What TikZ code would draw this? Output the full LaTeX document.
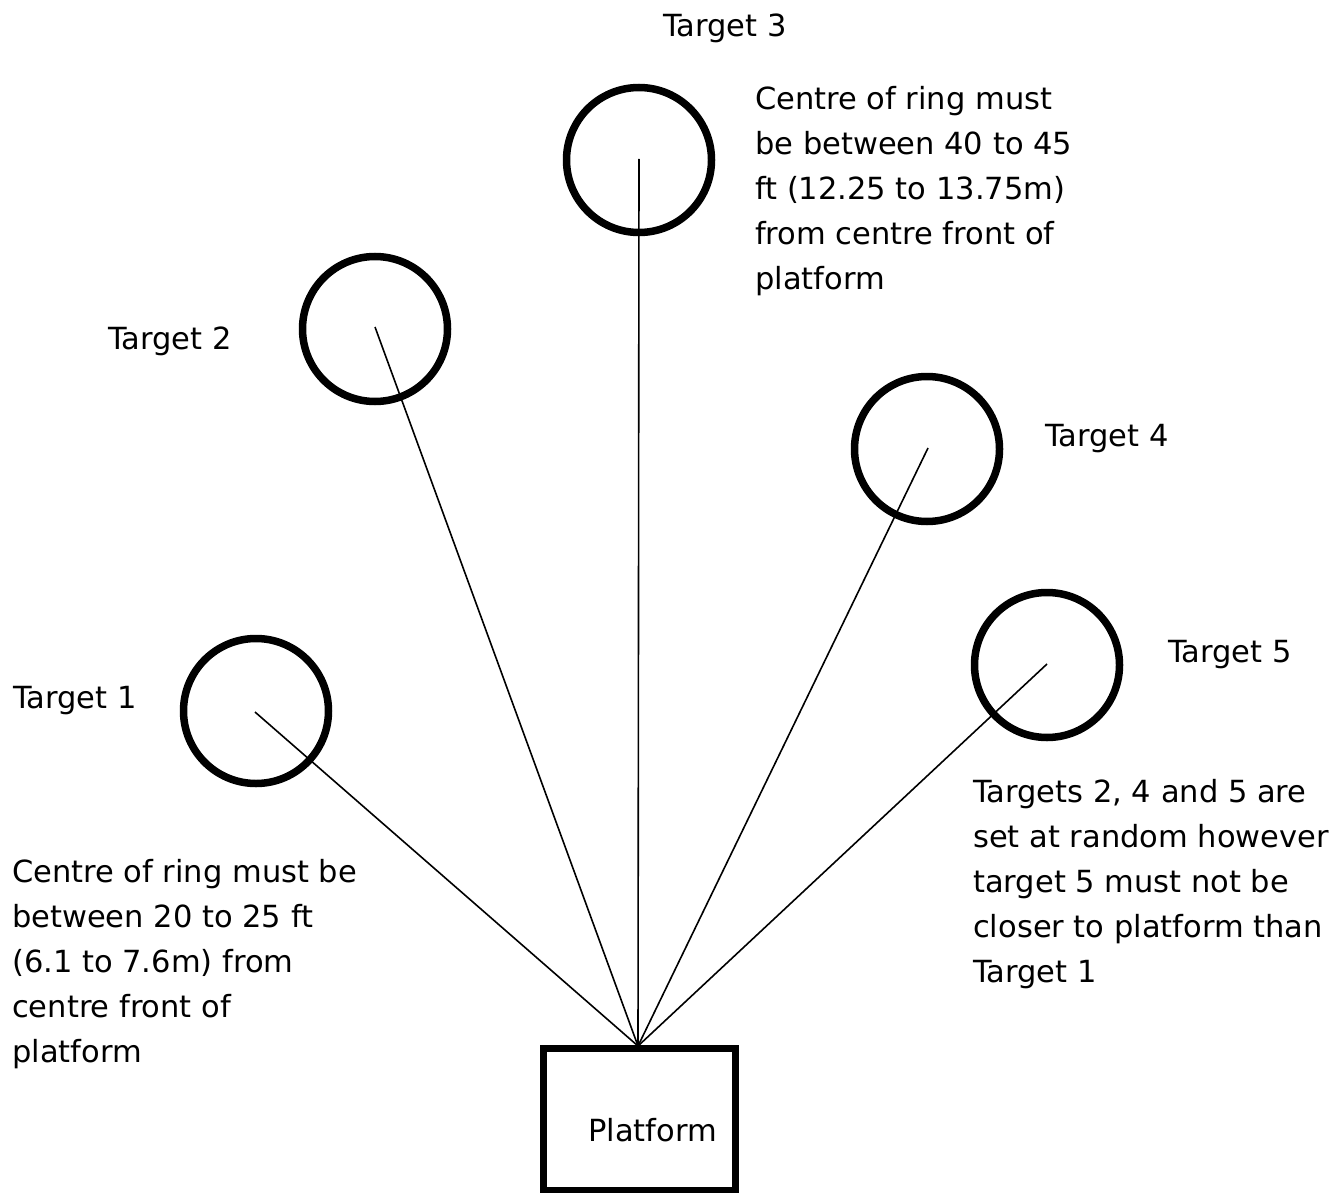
\documentclass[tikz,border=0pt]{standalone}
\usepackage{fontspec}
\setmainfont{DejaVu Sans}
\begin{document}
\begin{tikzpicture}[x=1pt,y=-1pt,
  ring/.style={circle,draw,line width=7.5pt,minimum size=145pt,inner sep=0pt},
  conn/.style={line width=1.6pt},
  lbl/.style={anchor=base west,inner sep=0pt,font=\fontsize{30.5}{45}\selectfont},
  blk/.style={lbl,align=left}]
\useasboundingbox (0,0) rectangle (1338,1193);
% platform
\node[draw,line width=7pt,minimum width=192pt,minimum height=142pt,inner sep=0pt] (plat) at (639,1119) {};
\node[lbl] (platlbl) at (588,1141) {Platform};
% rings
\node[ring] (r1) at (256,711) {};
\node[ring] (r2) at (375,329) {};
\node[ring] (r3) at (639,160) {};
\node[ring] (r4) at (927,449) {};
\node[ring] (r5) at (1047,665) {};
% line ends inside rings
\coordinate (e1) at (255,712);
\coordinate (e2) at (375,327);
\coordinate (e3) at (639,159);
\coordinate (e4) at (928,448);
\coordinate (e5) at (1047,664);
\coordinate (top) at (638,1046);
\foreach \i in {1,...,5} \draw[conn] (e\i) -- (top);
% labels
\node[lbl] (t1) at (13,708) {Target 1};
\node[lbl] (t2) at (108,349) {Target 2};
\node[lbl] (t3) at (663,37) {Target 3};
\node[lbl] (t4) at (1045,446) {Target 4};
\node[lbl] (t5) at (1168,662) {Target 5};
% multi-line blocks: base = baseline of last line
\node[blk] (n3) at (755,289) {Centre of ring must\\be between 40 to 45\\ft (12.25 to 13.75m)\\from centre front of\\platform};
\node[blk] (n1) at (12,1062) {Centre of ring must be\\between 20 to 25 ft\\(6.1 to 7.6m) from\\centre front of\\platform};
\node[blk] (n5) at (973,982) {Targets 2, 4 and 5 are\\set at random however\\target 5 must not be\\closer to platform than\\Target 1};
\end{tikzpicture}
\end{document}
